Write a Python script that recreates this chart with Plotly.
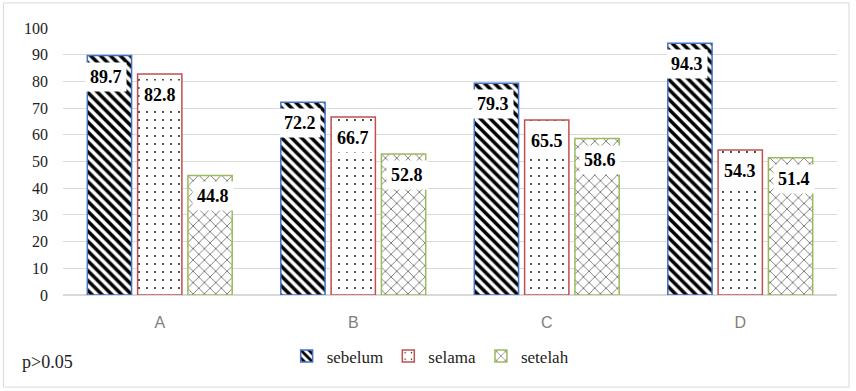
import plotly.graph_objects as go

categories = ["A", "B", "C", "D"]
sebelum = [89.7, 72.2, 79.3, 94.3]
selama = [82.8, 66.7, 65.5, 54.3]
setelah = [44.8, 52.8, 58.6, 51.4]
y_ticks = list(range(0, 101, 10))

series = [
    ("sebelum", sebelum, "\\", "#4472C4", 7, 0.5),
    ("selama", selama, ".", "#C0504D", 8, 0.04),
    ("setelah", setelah, "x", "#9BBB59", 8, 0.12),
]

fig = go.Figure()
for i, (name, vals, shape, edge, psize, solid) in enumerate(series):
    fig.add_trace(go.Bar(
        name=name,
        x=categories,
        y=vals,
        offsetgroup=str(i),
        marker=dict(
            color="white",
            line=dict(color=edge, width=1.5),
            pattern=dict(shape=shape, fgcolor="black", bgcolor="white",
                         size=psize, solidity=solid, fillmode="replace"),
        ),
    ))

# value labels in white boxes just under each bar top
n = len(series)
for i, (name, vals, *_rest) in enumerate(series):
    for j, v in enumerate(vals):
        fig.add_annotation(
            x=categories[j], y=v, xref="x", yref="y",
            text=f"{v:.1f}",
            showarrow=False,
            xshift=(i - (n - 1) / 2) * 53.5,
            yshift=-21,
            yanchor="middle",
            bgcolor="white",
            borderpad=4,
            font=dict(family="Liberation Serif", size=18, color="black", weight="bold"),
        )

fig.add_annotation(
    text="p>0.05", x=-0.056, y=-0.25, xref="paper", yref="paper",
    xanchor="left", yanchor="middle", showarrow=False,
    font=dict(family="Liberation Serif", size=18, color="#222222"),
)

# light outer frame of the chart
fig.add_shape(type="rect", xref="paper", yref="paper",
              x0=-0.077, x1=1.0155, y0=-0.345, y1=1.094,
              line=dict(color="#D9D9D9", width=1))

fig.update_layout(
    width=856, height=391,
    margin=dict(l=63, r=19, t=28, b=96),
    paper_bgcolor="white", plot_bgcolor="white",
    barmode="group", bargap=0.22, bargroupgap=0.12,
    showlegend=True,
    legend=dict(orientation="h", x=0.475, xanchor="center", y=-0.23, yanchor="middle",
                font=dict(family="Liberation Serif", size=17, color="#222222"),
                itemwidth=30, traceorder="normal"),
    xaxis=dict(showgrid=False, showline=True, linecolor="#D9D9D9", linewidth=1,
               ticks="", ticklabelstandoff=13,
               tickfont=dict(family="Liberation Sans", size=16, color="#7F7F7F")),
    yaxis=dict(range=[0, 100], tickvals=y_ticks, showgrid=True, gridcolor="#D9D9D9",
               gridwidth=1, zeroline=True, zerolinecolor="#D9D9D9", ticks="",
               ticklabelstandoff=14,
               tickfont=dict(family="Liberation Serif", size=16, color="#222222")),
)

fig.write_html("out.html")
